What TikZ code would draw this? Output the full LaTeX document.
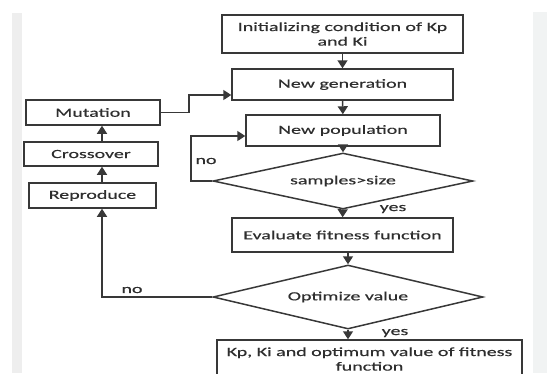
\documentclass[tikz,border=0pt]{standalone}
\usepackage{fontspec}
\setmainfont{Carlito}[FakeStretch=1.6,FakeBold=0.4]
\usetikzlibrary{arrows.meta,shapes.geometric}
\definecolor{ln}{HTML}{383838}
\definecolor{txt}{HTML}{2E2E2E}
\definecolor{strip}{HTML}{EEEEEE}
\definecolor{stripr}{HTML}{F1F3F3}

\begin{document}
\begin{tikzpicture}[x=0.02cm,y=-0.02cm,
    box/.style={draw=ln,line width=0.85pt,inner sep=0pt,align=center,text=txt,font=\fontsize{7.1}{8.3}\selectfont},
    dec/.style={box,diamond,aspect=4.6},
    lbl/.style={text=txt,inner sep=0pt,font=\fontsize{7.1}{8.3}\selectfont},
    >={Triangle[length=1.6mm,width=2mm]},line width=0.85pt,draw=ln]
    \path[use as bounding box,clip] (0,0) rectangle (547,373);
    \fill[white] (0,0) rectangle (547,373);
    \fill[strip] (12,13) rectangle (22,373);
    \fill[stripr] (533,12) rectangle (547,373);
    % main column
    \node[box,minimum width=4.82cm,minimum height=0.76cm] (init) at (342.5,34) {Initializing condition of Kp\\and Ki};
    \node[box,minimum width=4.42cm,minimum height=0.62cm] (gen) at (342.5,84.5) {New generation};
    \node[box,minimum width=3.88cm,minimum height=0.62cm] (pop) at (343,130.5) {New population};
    \node[dec,minimum width=5.2cm,minimum height=1.12cm] (samp) at (343,181) {samples>size};
    \node[box,minimum width=4.42cm,minimum height=0.68cm] (eval) at (342.5,235) {Evaluate fitness function};
    \node[dec,minimum width=5.4cm,minimum height=1.28cm] (opt) at (348,297) {Optimize value};
    \node[box,minimum width=6.1cm,minimum height=0.76cm] (res) at (369.5,359) {Kp, Ki and optimum value of fitness\\function};
    % left column
    \node[box,minimum width=2.68cm,minimum height=0.5cm] (mut) at (93,112.5) {Mutation};
    \node[box,minimum width=2.68cm,minimum height=0.48cm] (cross) at (91,154) {Crossover};
    \node[box,minimum width=2.54cm,minimum height=0.5cm] (repr) at (92.5,195.5) {Reproduce};
    \coordinate (colx) at (102,0);
    \coordinate (noa) at (191,136);
    \coordinate (mk) at (189,95);
    \draw[->] (init) -- (gen); \draw[->] (gen) -- (pop); \draw[->] (pop) -- (samp);
    \draw[->] (samp.west) -| (noa) -- (pop.west |- noa);
    \draw[->] (samp) -- (eval);
    \draw[->] (opt.north |- eval.south) -- (opt.north);
    \draw[->] (opt.west) -| (repr.south -| colx);
    \draw[->] (opt.south) -- (opt.south |- res.north);
    \draw[->] (repr.north -| colx) -- (cross.south -| colx);
    \draw[->] (cross.north -| colx) -- (mut.south -| colx);
    \draw[->] (mut.east) -| (mk) -- (gen.west |- mk);
    \node[lbl] (no1) at (206,161) {no};
    \node[lbl] (yes1) at (393,209) {yes};
    \node[lbl] (no2) at (132,290) {no};
    \node[lbl] (yes2) at (395,333) {yes};
\end{tikzpicture}
\end{document}
